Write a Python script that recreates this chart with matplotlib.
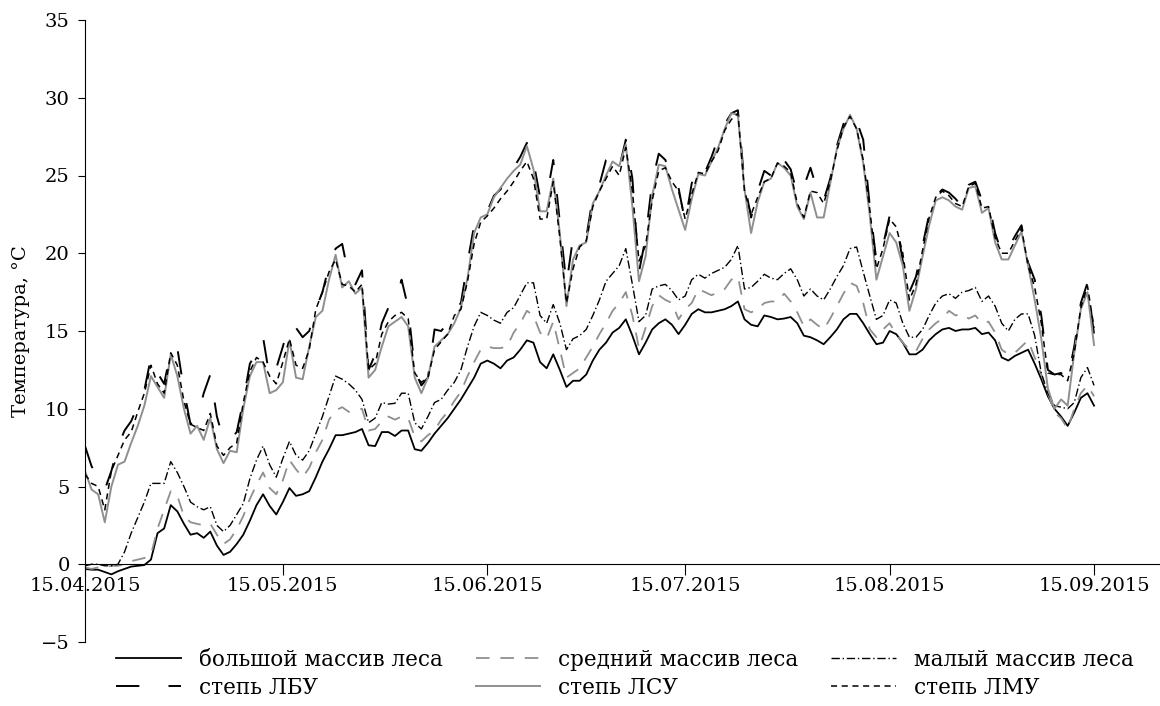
import matplotlib.pyplot as plt
import matplotlib.dates as mdates
import pandas as pd

plt.rcParams['font.family'] = ['DejaVu Serif']
plt.rcParams['font.size'] = 14

days = pd.date_range('2015-04-15', periods=154, freq='D')

# лесные массивы
big_forest = [
    -0.3, -0.35, -0.35, -0.5, -0.65, -0.45, -0.3, -0.15, -0.1, -0.05, 0.3, 2.0, 2.3, 3.8, 3.4, 2.6, 1.9, 2.0, 1.7, 2.1,
    1.2, 0.6, 0.8, 1.3, 1.9, 2.8, 3.8,
    4.5, 3.75, 3.2, 4.0, 4.9, 4.4, 4.5, 4.7, 5.6, 6.6, 7.4, 8.3, 8.3, 8.4, 8.5, 8.7, 7.65, 7.6, 8.5, 8.5, 8.25, 8.6,
    8.6, 7.4, 7.3, 7.8,
    8.4, 8.9, 9.4, 10.0, 10.6, 11.3, 12.0, 12.9, 13.1, 12.9, 12.6, 13.1, 13.3, 13.8, 14.4, 14.25, 13.0, 12.6, 13.5,
    12.5, 11.4, 11.8, 11.8, 12.2, 13.1, 13.8,
    14.25, 14.9, 15.2, 15.75, 14.7, 13.5, 14.25, 15.1, 15.5, 15.75, 15.4, 14.8, 15.4, 16.1, 16.4, 16.2, 16.2, 16.3,
    16.4, 16.6, 16.9, 15.75, 15.4, 15.3, 16.0,
    15.9, 15.75, 15.8, 15.9, 15.5, 14.7, 14.6, 14.4, 14.15, 14.6, 15.1, 15.75, 16.1, 16.1, 15.5, 14.8, 14.15, 14.25,
    15.0, 14.8, 14.25, 13.5, 13.5, 13.8, 14.4, 14.8,
    15.1, 15.2, 15.0, 15.1, 15.1, 15.2, 14.8, 14.9, 14.4, 13.3, 13.1, 13.4, 13.6, 13.8, 12.9, 11.9, 10.8, 10.0, 9.5,
    8.9, 9.75, 10.7, 11.0, 10.2,
]
mid_forest = [
    -0.2, -0.3, -0.2, -0.2, -0.1, -0.1, 0.0, 0.2, 0.3, 0.4, 0.6, 2.3, 3.5, 4.7, 4.4, 3.1, 2.7, 2.6, 2.5, 2.6, 1.9,
    1.3, 1.6, 2.25, 3.1, 4.2, 5.1,
    5.9, 4.9, 4.5, 5.4, 6.7, 6.1, 5.6, 6.2, 7.2, 8.0, 9.3, 9.9, 10.1, 9.8, 9.9, 10.0, 8.6, 8.7, 9.2, 9.5, 9.3, 9.5,
    9.4, 8.2, 7.9, 8.3,
    8.6, 9.3, 9.8, 10.5, 11.1, 12.1, 13.0, 13.8, 14.0, 13.9, 13.9, 14.0, 14.9, 15.5, 16.3, 16.0, 14.9, 14.5, 15.6,
    13.8, 12.0, 12.3, 12.6, 13.3, 14.0, 14.8,
    15.5, 16.3, 16.8, 17.5, 16.0, 13.9, 15.2, 16.6, 17.3, 17.0, 16.8, 15.75, 16.4, 16.8, 17.7, 17.5, 17.3, 17.5, 17.7,
    18.3, 18.5, 16.4, 16.2, 16.4, 16.8,
    16.9, 16.9, 17.4, 16.9, 16.2, 15.3, 15.75, 15.4, 15.1, 15.8, 16.6, 17.4, 18.1, 17.9, 16.8, 15.1, 14.6, 15.1, 15.5,
    14.8, 14.25, 13.8, 13.7, 14.5, 15.1, 15.5,
    15.8, 16.3, 16.0, 16.1, 15.8, 16.0, 15.5, 15.6, 14.9, 13.8, 13.5, 13.6, 14.0, 14.4, 13.3, 12.2, 11.0, 9.75, 9.4,
    8.7, 10.0, 11.0, 11.5, 10.8,
]
small_forest = [
    -0.1, 0.0, 0.0, -0.1, -0.1, 0.0, 0.8, 2.0, 3.0, 4.0, 5.2, 5.2, 5.2, 6.6, 5.9, 5.0, 4.0, 3.7, 3.5, 3.7, 2.5, 2.1,
    2.5, 3.2, 3.9, 5.5, 6.7,
    7.6, 6.4, 5.6, 6.8, 7.9, 7.0, 6.7, 7.3, 8.4, 9.5, 10.8, 12.1, 11.9, 11.6, 11.2, 10.6, 9.1, 9.4, 10.4, 10.3, 10.35,
    11.0, 11.0, 9.1, 8.7, 9.5,
    10.4, 10.6, 11.2, 11.7, 12.5, 14.0, 15.3, 16.2, 16.0, 15.7, 15.5, 16.2, 16.5, 17.3, 18.1, 18.1, 16.0, 15.5, 16.7,
    15.5, 13.8, 14.5, 14.7, 15.1, 16.0, 17.0,
    18.2, 18.7, 19.2, 20.3, 18.0, 15.6, 16.0, 17.7, 17.9, 18.0, 17.6, 17.0, 17.25, 18.3, 18.65, 18.4, 18.7, 18.9, 19.1,
    19.6, 20.5, 17.7, 17.8, 18.2, 18.65,
    18.4, 18.3, 18.7, 19.0, 18.3, 17.25, 17.7, 17.25, 17.0, 17.7, 18.5, 19.2, 20.3, 20.4, 18.8, 17.25, 15.75, 16.0,
    17.0, 16.8, 15.5, 14.6, 14.6, 15.1, 16.0, 16.8,
    17.25, 17.4, 17.1, 17.5, 17.6, 17.8, 16.9, 17.25, 16.6, 15.5, 15.0, 15.75, 16.1, 16.1, 14.7, 12.3, 11.0, 10.2,
    10.1, 10.0, 10.4, 12.0, 12.65, 11.5,
]

# степные участки
steppe_lbu = [
    7.6, 6.3, 5.5, 4.8, 6.0, 7.6, 8.6, 9.2, 10.2, 11.2, 13.3, 12.3, 11.6, 13.7, 13.9, 11.2, 9.0, 9.3, 11.0, 12.2, 9.5,
    8.0, 8.0, 8.5, 10.5, 12.9, 13.6,
    14.6, 12.0, 12.6, 14.0, 15.5, 15.2, 14.6, 15.0, 16.4, 17.5, 19.2, 20.3, 20.6, 18.5, 18.0, 18.9, 12.5, 13.5, 15.5,
    16.5, 16.8, 18.3, 16.5, 12.5, 11.5, 12.0,
    15.1, 15.0, 15.5, 16.3, 16.8, 19.4, 21.8, 22.4, 22.7, 23.7, 24.1, 24.8, 25.5, 26.2, 27.1, 25.9, 23.6, 23.6, 26.0,
    22.0, 18.0, 21.0, 20.8, 21.0, 23.6, 24.4,
    26.0, 26.3, 25.5, 27.3, 24.8, 18.8, 21.0, 24.6, 26.4, 26.0, 24.8, 24.2, 22.0, 24.5, 25.6, 25.2, 26.2, 27.4, 28.3,
    29.0, 29.2, 24.5, 22.3, 24.0, 25.3,
    25.0, 26.2, 26.0, 25.4, 23.8, 24.3, 25.5, 24.1, 23.4, 24.8, 26.9, 28.3, 29.0, 28.5, 27.3, 23.0, 19.5, 20.5, 22.4,
    22.0, 19.5, 17.5, 18.5, 20.5, 22.5, 23.7,
    24.1, 23.9, 23.5, 23.0, 24.4, 24.6, 23.4, 23.3, 21.3, 20.0, 20.3, 21.1, 21.8, 19.4, 18.3, 16.0, 12.5, 12.2, 12.3,
    11.9, 14.0, 16.8, 18.1, 14.8,
]
steppe_lsu = [
    6.0, 4.8, 4.5, 2.7, 5.0, 6.4, 6.6, 7.8, 8.9, 10.2, 12.1, 11.4, 10.7, 13.5, 12.1, 10.0, 8.4, 8.9, 8.0, 9.4, 7.4,
    6.5, 7.3, 7.2, 10.0, 12.1, 13.0,
    13.0, 11.0, 11.2, 11.7, 14.4, 12.0, 11.9, 14.0, 15.9, 16.3, 18.3, 19.9, 17.8, 18.2, 17.4, 17.8, 12.0, 12.5, 14.0,
    15.3, 15.6, 15.9, 15.3, 12.0, 11.0, 12.0,
    14.0, 14.4, 14.8, 15.5, 16.5, 18.4, 21.3, 22.3, 22.5, 23.6, 24.2, 24.8, 25.3, 25.7, 26.9, 25.4, 22.7, 22.7, 24.8,
    21.3, 16.6, 19.6, 20.5, 20.7, 23.2, 24.0,
    25.0, 25.9, 25.6, 27.0, 23.0, 18.2, 19.8, 23.7, 25.7, 25.6, 24.1, 22.8, 21.5, 23.5, 25.1, 25.0, 25.9, 26.8, 28.0,
    29.0, 28.9, 24.1, 21.3, 23.3, 24.6,
    24.8, 25.8, 25.5, 25.0, 23.0, 22.2, 23.9, 22.3, 22.3, 24.5, 26.7, 28.0, 28.9, 28.0, 25.8, 22.4, 18.3, 19.8, 21.3,
    20.7, 19.2, 16.3, 17.7, 19.8, 21.8, 23.4,
    23.6, 23.4, 23.0, 22.8, 24.2, 24.3, 22.6, 22.9, 20.7, 19.6, 19.6, 20.5, 21.4, 19.2, 17.0, 14.5, 11.3, 10.0, 10.6,
    10.2, 13.6, 16.4, 17.5, 14.1,
]
steppe_lmu = [
    5.8, 5.2, 5.0, 3.5, 6.0, 7.0, 8.0, 8.5, 9.8, 11.0, 12.8, 11.6, 11.0, 13.6, 12.8, 10.5, 9.0, 8.8, 8.6, 9.7, 7.6,
    7.0, 7.5, 7.8, 10.4, 12.4, 13.3,
    13.0, 12.1, 11.6, 13.0, 14.5, 12.8, 12.6, 13.8, 16.4, 17.5, 18.8, 19.6, 18.0, 17.9, 17.5, 18.0, 12.5, 12.9, 14.8,
    15.6, 16.0, 16.2, 15.8, 12.3, 11.7, 12.0,
    13.8, 14.3, 14.8, 16.0, 16.4, 18.2, 20.6, 22.0, 22.4, 22.9, 23.5, 24.0, 24.6, 25.3, 25.9, 24.8, 22.2, 22.2, 24.6,
    21.0, 16.8, 19.0, 20.4, 20.8, 23.0, 24.0,
    24.8, 25.6, 25.0, 26.8, 24.0, 19.5, 20.5, 23.4, 25.3, 25.5, 24.6, 24.0, 22.2, 23.8, 25.2, 25.1, 25.9, 26.6, 27.9,
    28.6, 29.0, 24.0, 22.5, 23.6, 24.6,
    24.8, 25.8, 25.6, 25.2, 23.2, 22.3, 24.0, 23.9, 23.2, 24.6, 26.6, 28.1, 28.8, 28.0, 26.0, 22.8, 19.0, 20.3, 22.2,
    21.7, 20.0, 17.0, 18.0, 20.2, 22.3, 23.6,
    24.0, 23.7, 23.2, 23.0, 24.3, 24.5, 22.9, 23.0, 21.0, 20.0, 20.0, 20.8, 21.6, 19.2, 17.8, 15.5, 12.3, 12.2, 12.2,
    11.8, 13.6, 16.5, 17.9, 15.2,
]

tick_dates = pd.to_datetime(['2015-04-15', '2015-05-15', '2015-06-15', '2015-07-15', '2015-08-15', '2015-09-15'])

grey = '#8f8f8f'

fig = plt.figure(figsize=(11.6, 7.06), dpi=100)
ax = fig.add_axes([85 / 1160, 1 - 642 / 706, 1 - 85 / 1160, 622 / 706])

l_big, = ax.plot(days, big_forest, color='black', lw=1.3, label='большой массив леса')
l_mid, = ax.plot(days, mid_forest, color=grey, lw=1.3, dashes=(7.5, 6), label='средний массив леса')
l_small, = ax.plot(days, small_forest, color='black', lw=1.0, dashes=(6, 2, 1, 2), label='малый массив леса')
l_lbu, = ax.plot(days, steppe_lbu, color='black', lw=1.4, dashes=(12, 15), label='степь ЛБУ')
l_lsu, = ax.plot(days, steppe_lsu, color=grey, lw=1.4, label='степь ЛСУ')
l_lmu, = ax.plot(days, steppe_lmu, color='black', lw=1.1, dashes=(4, 3), label='степь ЛМУ')

ax.set_xlim(days[0], days[0] + pd.Timedelta(days=163))
ax.set_ylim(-5, 35)
ax.set_yticks(range(-5, 36, 5))
ax.set_xticks(tick_dates)
ax.xaxis.set_major_formatter(mdates.DateFormatter('%d.%m.%Y'))

for s in ['top', 'right']:
    ax.spines[s].set_visible(False)
ax.spines['bottom'].set_position(('data', 0))
ax.spines['left'].set_linewidth(0.8)
ax.spines['bottom'].set_linewidth(0.8)
ax.tick_params(axis='x', direction='out', length=8, width=0.8, pad=1)
ax.tick_params(axis='y', direction='out', length=5, width=0.8, pad=6)
ax.set_ylabel('Температура, °C', labelpad=8)

# легенда: первая строка - лес, вторая - степь
handles = [l_big, l_lbu, l_mid, l_lsu, l_small, l_lmu]
fig.legend(handles=handles, labels=[h.get_label() for h in handles], ncol=3, frameon=False,
           loc='upper left', bbox_to_anchor=(0.093, 0.093), fontsize=15.5, handlelength=3.0,
           handletextpad=0.85, columnspacing=1.5, labelspacing=0.28, borderaxespad=0)

fig.savefig('out.png', dpi=100)
